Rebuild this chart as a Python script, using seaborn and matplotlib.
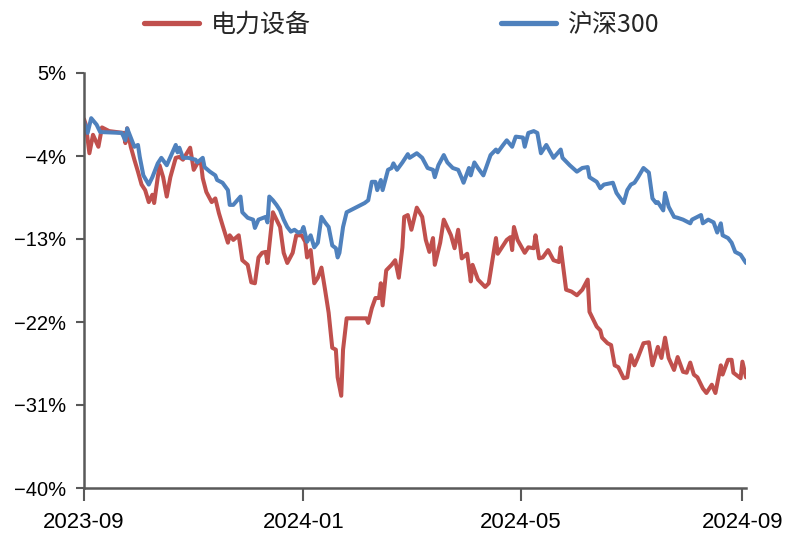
import matplotlib
matplotlib.use("Agg")
import matplotlib.pyplot as plt
import matplotlib.dates as mdates
from matplotlib.lines import Line2D
from matplotlib.ticker import FixedLocator, FuncFormatter
import pandas as pd
import seaborn as sns

# 电力设备 cumulative return (%)
power_dates = [
    "2023-09-01", "2023-09-02", "2023-09-04", "2023-09-06", "2023-09-09", "2023-09-11", "2023-09-15", "2023-09-23", "2023-09-24", "2023-09-25", "2023-09-27", "2023-09-29",
    "2023-10-01", "2023-10-03", "2023-10-05", "2023-10-07", "2023-10-09", "2023-10-10", "2023-10-12", "2023-10-13", "2023-10-15", "2023-10-17", "2023-10-19", "2023-10-22", "2023-10-24", "2023-10-26", "2023-10-30",
    "2023-11-01", "2023-11-03", "2023-11-05", "2023-11-06", "2023-11-08", "2023-11-11", "2023-11-13", "2023-11-15", "2023-11-17", "2023-11-20", "2023-11-21", "2023-11-23", "2023-11-26", "2023-11-28",
    "2023-12-01", "2023-12-03", "2023-12-05", "2023-12-07", "2023-12-09", "2023-12-11", "2023-12-12", "2023-12-15", "2023-12-17", "2023-12-19", "2023-12-21", "2023-12-23", "2023-12-26", "2023-12-28", "2023-12-31",
    "2024-01-02", "2024-01-03", "2024-01-05", "2024-01-07", "2024-01-09", "2024-01-11", "2024-01-13", "2024-01-15", "2024-01-17", "2024-01-19", "2024-01-20", "2024-01-22", "2024-01-23", "2024-01-25",
    "2024-02-05", "2024-02-06", "2024-02-08", "2024-02-10", "2024-02-12", "2024-02-13", "2024-02-14", "2024-02-16", "2024-02-19", "2024-02-21", "2024-02-23", "2024-02-25", "2024-02-26", "2024-02-28",
    "2024-03-01", "2024-03-04", "2024-03-07", "2024-03-09", "2024-03-11", "2024-03-13", "2024-03-14", "2024-03-17", "2024-03-19", "2024-03-23", "2024-03-25", "2024-03-27", "2024-03-29",
    "2024-04-01", "2024-04-03", "2024-04-04", "2024-04-07", "2024-04-11", "2024-04-13", "2024-04-17", "2024-04-18", "2024-04-23", "2024-04-25", "2024-04-26", "2024-04-27", "2024-04-29",
    "2024-05-03", "2024-05-05", "2024-05-08", "2024-05-09", "2024-05-11", "2024-05-13", "2024-05-16", "2024-05-19", "2024-05-22", "2024-05-23", "2024-05-26", "2024-05-29",
    "2024-06-01", "2024-06-04", "2024-06-07", "2024-06-08", "2024-06-12", "2024-06-14", "2024-06-15", "2024-06-18", "2024-06-20", "2024-06-22", "2024-06-24", "2024-06-27", "2024-06-29",
    "2024-07-01", "2024-07-03", "2024-07-05", "2024-07-08", "2024-07-11", "2024-07-13", "2024-07-16", "2024-07-18", "2024-07-20", "2024-07-22", "2024-07-25", "2024-07-27", "2024-07-30",
    "2024-08-01", "2024-08-03", "2024-08-05", "2024-08-07", "2024-08-10", "2024-08-12", "2024-08-15", "2024-08-17", "2024-08-20", "2024-08-21", "2024-08-24", "2024-08-26", "2024-08-27", "2024-08-31",
    "2024-09-01", "2024-09-03",
]
power_values = [
    0.0, -0.6, -3.7, -1.7, -3.0, -0.9, -1.3, -1.5, -2.6, -1.0, -3.0, -4.4,
    -5.7, -7.1, -7.7, -9.0, -8.2, -9.1, -6.3, -5.0, -6.3, -8.4, -6.3, -4.2, -4.1, -4.4, -3.1,
    -5.5, -4.8, -4.7, -6.4, -7.9, -9.0, -8.6, -10.2, -11.5, -13.4, -12.6, -13.1, -12.6, -15.3,
    -15.8, -17.7, -17.8, -15.0, -14.5, -14.4, -15.6, -10.1, -10.9, -11.7, -14.5, -15.6, -14.5, -12.6, -12.6,
    -13.3, -15.0, -14.2, -17.8, -17.2, -16.1, -18.5, -21.0, -24.8, -25.0, -28.0, -30.0, -25.0, -21.6,
    -21.6, -22.1, -20.5, -19.4, -19.4, -17.8, -20.2, -16.4, -15.8, -15.3, -17.2, -13.9, -10.6, -10.4,
    -12.0, -9.6, -10.6, -13.1, -14.4, -12.9, -15.8, -13.4, -10.9, -12.6, -14.0, -12.0, -15.1,
    -14.6, -17.6, -15.8, -17.4, -18.2, -17.8, -12.9, -14.6, -13.1, -12.8, -14.2, -11.7, -13.1,
    -14.5, -13.9, -14.0, -12.6, -15.1, -15.0, -14.2, -15.3, -15.5, -13.9, -18.5, -18.7,
    -19.1, -18.5, -17.4, -20.9, -22.5, -22.9, -23.7, -24.3, -24.5, -26.7, -26.9, -28.1, -28.0,
    -25.6, -26.7, -25.8, -24.3, -24.2, -26.7, -24.7, -25.9, -23.7, -25.9, -27.2, -25.8, -27.4,
    -27.5, -26.4, -27.7, -28.0, -29.2, -29.7, -28.8, -29.7, -26.7, -27.7, -26.1, -26.1, -27.5, -28.1,
    -26.3, -28.0,
]

# 沪深300 cumulative return (%)
csi_dates = [
    "2023-09-01", "2023-09-03", "2023-09-05", "2023-09-08", "2023-09-10", "2023-09-22", "2023-09-24", "2023-09-25", "2023-09-28", "2023-09-29",
    "2023-10-01", "2023-10-02", "2023-10-04", "2023-10-07", "2023-10-09", "2023-10-12", "2023-10-14", "2023-10-17", "2023-10-22", "2023-10-23", "2023-10-24", "2023-10-26", "2023-10-29",
    "2023-11-02", "2023-11-03", "2023-11-06", "2023-11-07", "2023-11-10", "2023-11-13", "2023-11-14", "2023-11-17", "2023-11-20", "2023-11-21", "2023-11-23", "2023-11-27", "2023-11-28",
    "2023-12-01", "2023-12-04", "2023-12-05", "2023-12-07", "2023-12-11", "2023-12-12", "2023-12-13", "2023-12-15", "2023-12-17", "2023-12-19", "2023-12-21", "2023-12-23", "2023-12-25", "2023-12-27", "2023-12-29", "2023-12-31",
    "2024-01-01", "2024-01-03", "2024-01-05", "2024-01-07", "2024-01-09", "2024-01-11", "2024-01-13", "2024-01-15", "2024-01-17", "2024-01-19", "2024-01-20", "2024-01-21", "2024-01-23", "2024-01-25",
    "2024-02-04", "2024-02-06", "2024-02-08", "2024-02-10", "2024-02-11", "2024-02-13", "2024-02-14", "2024-02-17", "2024-02-19", "2024-02-20", "2024-02-22", "2024-02-25", "2024-02-28", "2024-02-29",
    "2024-03-04", "2024-03-07", "2024-03-10", "2024-03-13", "2024-03-14", "2024-03-16", "2024-03-19", "2024-03-21", "2024-03-24", "2024-03-27", "2024-03-29", "2024-03-30",
    "2024-04-02", "2024-04-03", "2024-04-05", "2024-04-07", "2024-04-10", "2024-04-12", "2024-04-14", "2024-04-17", "2024-04-18", "2024-04-21", "2024-04-23", "2024-04-26", "2024-04-28",
    "2024-05-02", "2024-05-03", "2024-05-05", "2024-05-08", "2024-05-10", "2024-05-12", "2024-05-15", "2024-05-19", "2024-05-23", "2024-05-24", "2024-05-28",
    "2024-06-01", "2024-06-04", "2024-06-07", "2024-06-08", "2024-06-12", "2024-06-14", "2024-06-16", "2024-06-21", "2024-06-23", "2024-06-27", "2024-06-29",
    "2024-07-01", "2024-07-03", "2024-07-05", "2024-07-08", "2024-07-11", "2024-07-13", "2024-07-15", "2024-07-16", "2024-07-19", "2024-07-20", "2024-07-22", "2024-07-25", "2024-07-27", "2024-07-30",
    "2024-08-03", "2024-08-04", "2024-08-07", "2024-08-09", "2024-08-10", "2024-08-13", "2024-08-16", "2024-08-18", "2024-08-20", "2024-08-21", "2024-08-24", "2024-08-26", "2024-08-28", "2024-08-31",
    "2024-09-03",
]
csi_values = [
    -0.3, -1.5, 0.1, -0.6, -1.4, -1.5, -2.3, -1.0, -2.5, -3.0,
    -2.8, -4.1, -6.1, -7.1, -6.3, -4.8, -4.2, -5.0, -2.8, -3.6, -3.1, -4.2, -4.2,
    -4.4, -4.7, -4.2, -5.2, -5.7, -6.1, -6.6, -6.9, -7.7, -9.3, -9.3, -8.4, -10.1,
    -10.7, -10.9, -11.8, -10.9, -10.6, -11.2, -8.4, -8.8, -9.3, -9.9, -10.9, -11.7, -12.2, -12.0, -12.3, -12.2,
    -11.7, -13.3, -12.6, -13.9, -13.4, -10.6, -11.2, -11.7, -13.7, -14.0, -15.0, -14.5, -11.7, -10.1,
    -9.1, -8.8, -6.8, -6.8, -7.7, -6.6, -7.7, -5.5, -5.3, -4.8, -5.5, -4.7, -3.8, -4.2,
    -3.7, -4.2, -5.3, -5.5, -6.3, -5.0, -3.9, -4.7, -5.3, -5.5, -6.4, -6.9,
    -5.3, -6.1, -4.7, -5.3, -6.1, -5.0, -3.9, -3.3, -3.6, -2.8, -2.3, -3.0, -1.9,
    -2.0, -3.0, -1.5, -1.3, -1.5, -3.7, -2.8, -4.2, -3.3, -4.2, -5.0,
    -5.7, -5.3, -5.2, -6.3, -6.8, -7.5, -7.1, -6.9, -8.0, -9.1, -7.7,
    -7.1, -6.9, -6.3, -5.3, -5.8, -8.6, -9.1, -9.0, -9.9, -8.0, -9.5, -10.6, -10.7, -10.9,
    -11.3, -10.9, -10.6, -10.4, -11.3, -10.9, -11.2, -12.3, -11.3, -12.6, -12.9, -13.4, -14.4, -14.7,
    -15.6,
]

series_names = ["电力设备", "沪深300"]
series_colors = ["#C0504D", "#4F81BD"]
y_ticks = [5, -4, -13, -22, -31, -40]
x_ticks = ["2023-09-01", "2024-01-01", "2024-05-01", "2024-09-01"]

df = pd.concat([
    pd.DataFrame({"date": pd.to_datetime(power_dates), "value": power_values, "series": series_names[0]}),
    pd.DataFrame({"date": pd.to_datetime(csi_dates), "value": csi_values, "series": series_names[1]}),
], ignore_index=True)

sns.set_theme(style="ticks")
plt.rcParams["font.family"] = ["Noto Sans CJK SC", "DejaVu Sans"]
plt.rcParams["axes.unicode_minus"] = True

W, H = 792, 534
fig = plt.figure(figsize=(W / 100, H / 100), dpi=100)
ax = fig.add_axes([84 / W, 1 - 488 / H, (746 - 84) / W, (488 - 73) / H])

sns.lineplot(
    data=df, x="date", y="value", hue="series", hue_order=series_names,
    palette=dict(zip(series_names, series_colors)), estimator=None,
    linewidth=2.9, legend=False, ax=ax,
)
for line in ax.get_lines():
    line.set_solid_joinstyle("round")
    line.set_solid_capstyle("round")

ax.set_xlim(pd.Timestamp("2023-09-01"), pd.Timestamp("2024-09-03"))
ax.set_ylim(-40, 5)
ax.yaxis.set_major_locator(FixedLocator(y_ticks))
ax.yaxis.set_major_formatter(FuncFormatter(lambda v, p: f"{v:.0f}%".replace("-", "\u2212")))
ax.xaxis.set_major_locator(FixedLocator(mdates.date2num(pd.to_datetime(x_ticks))))
ax.xaxis.set_major_formatter(mdates.DateFormatter("%Y-%m"))
ax.set_xlabel("")
ax.set_ylabel("")

axis_color = "#595959"
for side in ["top", "right"]:
    ax.spines[side].set_visible(False)
for side in ["left", "bottom"]:
    ax.spines[side].set_color(axis_color)
    ax.spines[side].set_linewidth(1.8)
ax.tick_params(axis="y", direction="out", length=6, width=1.5, color=axis_color, pad=7)
ax.tick_params(axis="x", direction="out", length=9, width=1.5, color=axis_color, pad=8)
for lab in ax.get_yticklabels():
    lab.set_fontfamily(["Liberation Sans", "DejaVu Sans"])
    lab.set_fontsize(14.5)
    lab.set_color("black")
for lab in ax.get_xticklabels():
    lab.set_fontfamily(["Liberation Sans", "DejaVu Sans"])
    lab.set_fontsize(16)
    lab.set_color("black")
ax.grid(False)

handles = [Line2D([], [], color=c, lw=3.8, solid_capstyle="round") for c in series_colors]
fig.legend(
    handles, series_names, loc="center", bbox_to_anchor=(0.507, 0.953), ncol=2,
    frameon=False, prop={"family": ["Noto Sans CJK SC", "DejaVu Sans"], "size": 18},
    handlelength=2.2, handletextpad=0.45, columnspacing=7.6,
)

fig.savefig("out.png", dpi=100)
